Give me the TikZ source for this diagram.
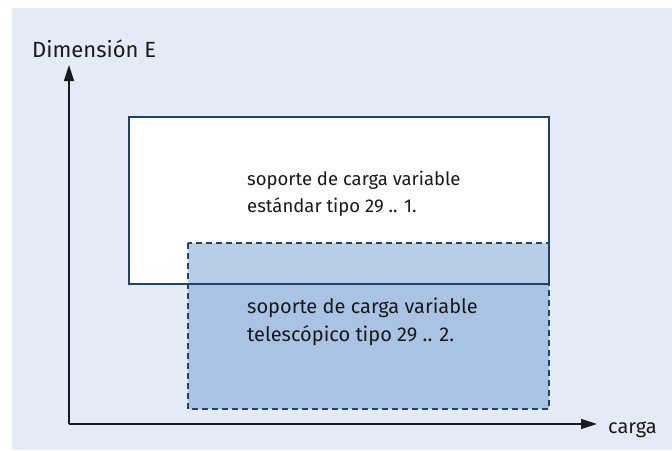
\documentclass[tikz,border=0pt]{standalone}
\usepackage{fontspec}
\setmainfont{Fira Sans}
\usetikzlibrary{arrows.meta}
\definecolor{bg}{HTML}{E4EAF6}
\definecolor{frame}{HTML}{1F4468}
\definecolor{bluefill}{HTML}{A9C3E4}
\definecolor{blueover}{HTML}{B8CDE8}
\definecolor{axis}{HTML}{1A1A1A}
\begin{document}
\begin{tikzpicture}[x=1pt,y=-1pt,
  lbl/.style={inner sep=0pt, anchor=base west, text=axis},
  fw/.style={font=\fontsize{18.5}{26}\selectfont},
  fb/.style={font=\fontsize{20}{27}\selectfont},
  axisline/.style={draw=axis, line width=1.3pt, -{Triangle[length=16pt,width=10pt]}},
  boxline/.style={draw=frame, line width=1.4pt},
  dashline/.style={draw=frame, line width=1.4pt, dash pattern=on 6pt off 4pt}]
\useasboundingbox (0,0) rectangle (672,450);
\fill[bg] (12,8) rectangle (672,450);
% coordinates
\coordinate (o) at (69,424);
\coordinate (ytip) at (69,65);
\coordinate (xtip) at (597,424);
\coordinate (wA) at (129,117);
\coordinate (wB) at (549,284);
\coordinate (bA) at (188,243);
\coordinate (bB) at (549,409);
% white box
\fill[white] (wA) rectangle (wB);
% blue box
\fill[bluefill] (bA) rectangle (bB);
\fill[blueover] (bA) rectangle (wB);
\draw[boxline] (wA) rectangle (wB);
\draw[dashline] (bA) rectangle (bB);
% axes
\draw[axisline] (o) -- (ytip);
\draw[axisline] (o) -- (xtip);
\node[lbl, font=\fontsize{22}{26}\selectfont] (ylab) at (32,57) {Dimensión E};
\node[lbl, fb] (xlab) at (608,433) {carga};
\node[lbl, fw] (t1a) at (247,185) {soporte de carga variable};
\node[lbl, fw] (t1b) at (247,212) {estándar tipo 29 .. 1.};
\node[lbl, fb] (t2a) at (247,313) {soporte de carga variable};
\node[lbl, fb] (t2b) at (247,341) {telescópico tipo 29 .. 2.};
\end{tikzpicture}
\end{document}
